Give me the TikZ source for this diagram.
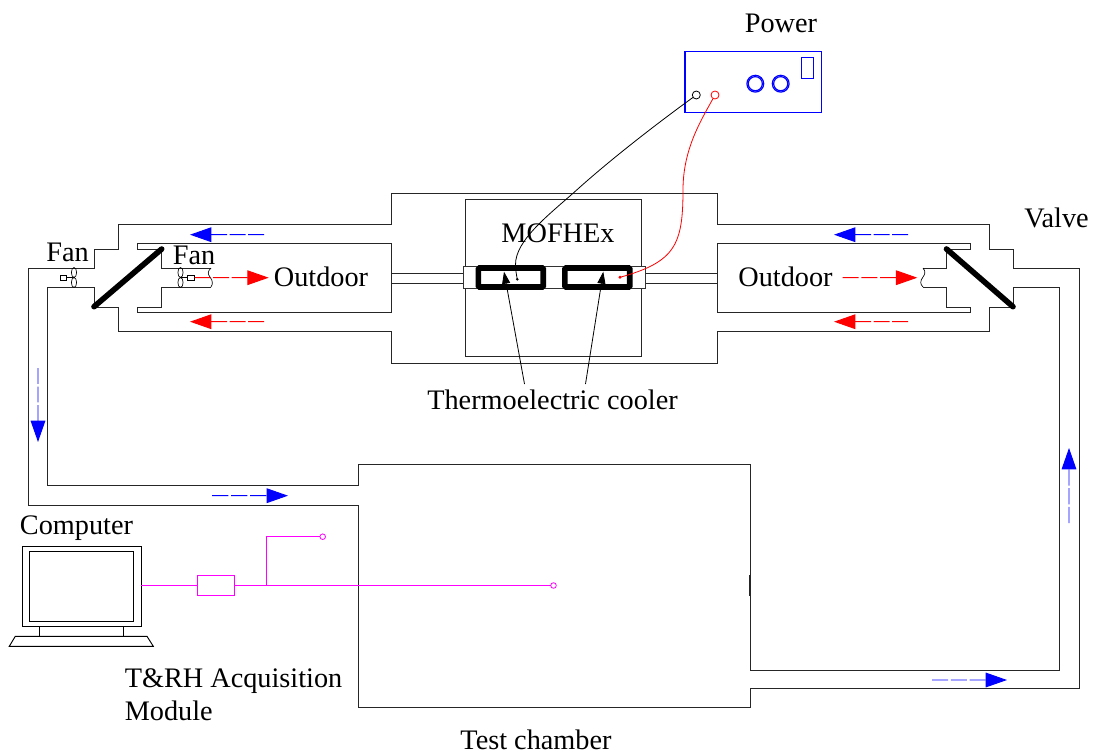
\documentclass[tikz,border=0pt]{standalone}
\usepackage{fontspec}
\setmainfont{Liberation Serif}
\usetikzlibrary{arrows.meta,calc}
\definecolor{magentaline}{RGB}{255,0,255}
\definecolor{blueline}{RGB}{0,0,255}
\definecolor{blueA}{RGB}{0,0,255}
\definecolor{blueB}{RGB}{0,0,254}
\definecolor{blueC}{RGB}{2,2,253}
\definecolor{redA}{RGB}{255,0,0}
\definecolor{redB}{RGB}{254,0,0}
\definecolor{redline}{RGB}{255,0,0}
\tikzset{
  px/.style={x=0.75pt,y=-0.75pt},
  duct/.style={line width=0.75pt,black!85},
  lab/.style={anchor=base,inner sep=0pt,font=\fontsize{21.2}{24}\selectfont,black},
  labl/.style={lab,anchor=base west},
  flowhead/.style={line width=0.7pt,shorten <=41pt,-{Triangle[length=16pt,width=11pt]}},
  valve/.style={line width=4.2pt,line cap=round,black},
  tec/.style={draw=black,line width=4.2pt,rounded corners=0.8pt,fill=white,inner sep=0pt,outer sep=0pt,minimum width=48.6pt,minimum height=14.2pt},
  endbox/.style={draw=black!80,line width=0.6pt,fill=white,inner sep=0pt,outer sep=0pt,minimum height=16.2pt},
  pbox/.style={draw=blueline,line width=0.8pt,inner sep=0pt,outer sep=0pt},
  term/.style={circle,line width=0.6pt,inner sep=0pt,outer sep=0pt,minimum size=6pt},
  magbox/.style={draw=magentaline,line width=0.7pt,inner sep=0pt,outer sep=0pt},
  mag/.style={draw=magentaline,line width=0.7pt},
  probe/.style={circle,draw=magentaline,line width=0.6pt,inner sep=0pt,outer sep=0pt,minimum size=4.2pt},
  pc/.style={draw=black,line width=0.7pt,inner sep=0pt,outer sep=0pt,fill=white},
  tip/.style={line width=0.6pt,black,-{Triangle[length=9pt,width=6pt]}},
  fanblade/.style={line width=0.5pt,black},
}
% a flow arrow: three filled dashes in one path (half width given as #4), then the head
\newcommand{\flowarrow}[4]{%
  \fill[#1] ($(#2)!0!(#3)+(#4)$) rectangle ($(#2)!0.215!(#3)-(#4)$)
    ($(#2)!0.25!(#3)+(#4)$) rectangle ($(#2)!0.465!(#3)-(#4)$)
    ($(#2)!0.50!(#3)+(#4)$) rectangle ($(#2)!0.715!(#3)-(#4)$);%
  \draw[flowhead,draw=#1,fill=#1] (#2) -- (#3);}
\begin{document}
\begin{tikzpicture}[px]
\useasboundingbox (0,0) rectangle (1093,753);

% air duct, outer and inner walls
\draw[duct] (28,268) -- (94,268) -- (94,249) -- (118,249) -- (118,224) -- (391,224) -- (391,193)
  -- (717,193) -- (717,224) -- (989,224) -- (989,249) -- (1013,249) -- (1013,268) -- (1079,268)
  -- (1079,688) -- (750,688) -- (750,707) -- (358,707) -- (358,505) -- (28,505) -- cycle;
\draw[duct] (47,287) -- (94,287) -- (94,307) -- (118,307) -- (118,331) -- (391,331) -- (391,363)
  -- (717,363) -- (717,331) -- (989,331) -- (989,307) -- (1013,307) -- (1013,287) -- (1059.5,287)
  -- (1059.5,670) -- (750,670) -- (750,464) -- (358,464) -- (358,485) -- (47,485) -- cycle;
\draw[line width=1.1pt,black!85] (750,575) -- (750,596);

% outdoor loops
\draw[duct] (211,268) -- (161,268) -- (161,249) -- (137,249) -- (137,243) -- (391,243) -- (391,312)
  -- (137,312) -- (137,307) -- (161,307) -- (161,287) -- (211,287);
\draw[line width=0.5pt,black] (211,268) .. controls (207,272) and (208,274) .. (210,277)
  .. controls (213,281) and (213,284) .. (211,287);
\draw[duct] (923,268) -- (946.5,268) -- (946.5,249) -- (970,249) -- (970,243) -- (717,243) -- (717,312)
  -- (970,312) -- (970,307) -- (946.5,307) -- (946.5,287) -- (923,287);
\draw[line width=0.5pt,black] (923,268) .. controls (926,272) and (925,274) .. (923,277)
  .. controls (920,281) and (920,284) .. (923,287);

% tube through the exchanger
\draw[duct] (391,273) -- (463,273) (391,283) -- (463,283) (645,273) -- (717,273) (645,283) -- (717,283);
\node[draw=black!85,line width=0.75pt,inner sep=0pt,outer sep=0pt,minimum width=132pt,minimum height=117.75pt] (mof) at (553.7,277.5) {};
\node[endbox,minimum width=136.5pt] (tube) at (554,277.5) {};
\node[tec] (tec1) at (510.8,277.5) {};
\node[tec] (tec2) at (597.3,277.5) {};

% valves
\coordinate (v1a) at (94,306.7);
\coordinate (v1b) at (161.7,249);
\coordinate (v2a) at (946.5,249);
\coordinate (v2b) at (1013,306.7);
\draw[valve] (v1a) -- (v1b);
\draw[valve] (v2a) -- (v2b);

% fans
\draw[fanblade] (74,272.5) ellipse [x radius=2.6,y radius=5] (74,282.5) ellipse [x radius=2.6,y radius=5];
\draw[fanblade] (180.5,272.5) ellipse [x radius=2.6,y radius=5] (180.5,282.5) ellipse [x radius=2.6,y radius=5];
\node[draw=black,line width=0.5pt,inner sep=0pt,outer sep=0pt,minimum width=4.6pt,minimum height=3.8pt,fill=white] (m1) at (63.7,277.7) {};
\node[draw=black,line width=0.5pt,inner sep=0pt,outer sep=0pt,minimum width=4.9pt,minimum height=3.8pt,fill=white] (m2) at (191,277.7) {};
\coordinate (h1) at (74,277.7);
\coordinate (h2) at (180.5,277.7);
\draw[fanblade] (m1) -- (h1);
\draw[fanblade] (m2) -- (h2);

% flow arrows
\coordinate (a1s) at (264,234.7); \coordinate (a1e) at (190,234.7);
\coordinate (a2s) at (264,321.7); \coordinate (a2e) at (190,321.7);
\coordinate (a3s) at (194.5,277.7); \coordinate (a3e) at (268.7,277.7);
\coordinate (a4s) at (908,234.7); \coordinate (a4e) at (834,234.7);
\coordinate (a5s) at (908,321.7); \coordinate (a5e) at (834,321.7);
\coordinate (a6s) at (842.7,277.7); \coordinate (a6e) at (917.3,277.7);
\coordinate (a7s) at (38,368); \coordinate (a7e) at (38,442);
\coordinate (a8s) at (212,495.7); \coordinate (a8e) at (288,495.7);
\coordinate (a9s) at (1069,523); \coordinate (a9e) at (1069,448);
\coordinate (a10s) at (932,680); \coordinate (a10e) at (1007,680);
\flowarrow{blueA}{a1s}{a1e}{0,0.47}
\flowarrow{redA}{a2s}{a2e}{0,0.47}
\flowarrow{redB}{a3s}{a3e}{0,0.47}
\flowarrow{blueA}{a4s}{a4e}{0,0.47}
\flowarrow{redA}{a5s}{a5e}{0,0.47}
\flowarrow{redB}{a6s}{a6e}{0,0.47}
\flowarrow{blueA}{a7s}{a7e}{0.47,0}
\flowarrow{blueC}{a8s}{a8e}{0,0.47}
\flowarrow{blueA}{a9s}{a9e}{0.47,0}
\flowarrow{blueB}{a10s}{a10e}{0,0.47}

% power supply
\node[pbox,minimum width=102.5pt,minimum height=45.7pt] (power) at (753.3,82.2) {};
\node[pbox,circle,line width=0.9pt,minimum size=12.6pt] (k1) at (755.3,83.7) {};
\node[pbox,circle,line width=0.9pt,minimum size=10.6pt] (k1i) at (755.3,83.7) {};
\node[pbox,circle,line width=0.9pt,minimum size=12.6pt] (k2) at (780.7,83.7) {};
\node[pbox,circle,line width=0.9pt,minimum size=10.6pt] (k2i) at (780.7,83.7) {};
\node[pbox,minimum width=8.8pt,minimum height=15.7pt] (disp) at (807.2,67.8) {};
\node[term,draw=black] (tb) at (696.3,95) {};
\node[term,draw=redline] (tr) at (715,95) {};

% wires
\coordinate (wb) at (517.3,279.3);
\coordinate (wr) at (620,277.3);
\fill[black] (wb) circle [radius=1.4];
\fill[redline] (wr) circle [radius=1.6];
\draw[line width=0.6pt,black] (tb) .. controls (655,125) and (610,160) .. (576.7,190)
  .. controls (550,214) and (515,240) .. (515.5,265) .. controls (515.5,270) and (516.5,275) .. (wb);
\draw[line width=0.6pt,draw=redline] (tr) .. controls (700,122) and (683,150) .. (683,190)
  .. controls (683,245) and (675,262) .. (wr);

% labels
\node[lab] (lpower) at (781,32.5) {Power};
\node[lab] (lfan1) at (67.5,261) {Fan};
\node[lab] (lfan2) at (194,264) {Fan};
\node[lab] (lout1) at (321,286) {Outdoor};
\node[lab] (lmof) at (558,242) {MOFHEx};
\node[lab] (lout2) at (785.5,286) {Outdoor};
\node[lab] (lvalve) at (1056.5,227) {Valve};
\node[lab] (ltec) at (552.5,409) {Thermoelectric cooler};
\node[lab] (lpc) at (76.5,534) {Computer};
\node[labl] (lacq) at (124.5,687.5) {T\&RH Acquisition};
\node[labl] (lmod) at (124.5,720) {Module};
\node[lab] (lchamber) at (536,749) {Test chamber};

% pointers to the coolers
\coordinate (p1) at (504,271.7);
\coordinate (p2) at (603.3,271.7);
\coordinate (p1s) at (524.5,384);
\coordinate (p2s) at (585.5,384);
\draw[tip] (p1s) -- (p1);
\draw[tip] (p2s) -- (p2);

% computer
\node[pc,minimum width=89.25pt,minimum height=59.5pt] (pcouter) at (81.5,586.3) {};
\node[pc,minimum width=78.3pt,minimum height=52pt] (pcscreen) at (81.5,586.3) {};
\coordinate (s1t) at (39.3,626); \coordinate (s1b) at (39.3,636.3);
\coordinate (s2t) at (123.3,626); \coordinate (s2b) at (123.3,636.3);
\draw[line width=0.7pt] (s1t) -- (s1b) (s2t) -- (s2b);
\draw[line width=0.7pt] (15.3,636.3) -- (147,636.3) -- (153.3,646.3) -- (9.3,646.3) -- cycle;

% acquisition module and probes
\node[magbox,minimum width=27.75pt,minimum height=15.3pt] (acq) at (215.5,585.5) {};
\node[probe] (pr1) at (322.7,536.7) {};
\node[probe] (pr2) at (553.5,585.5) {};
\coordinate (jn) at (266.5,585.5);
\draw[mag] (pcouter.east |- acq) -- (acq);
\draw[mag] (acq) -- (pr2);
\draw[mag] (jn) |- (pr1);
\end{tikzpicture}
\end{document}
